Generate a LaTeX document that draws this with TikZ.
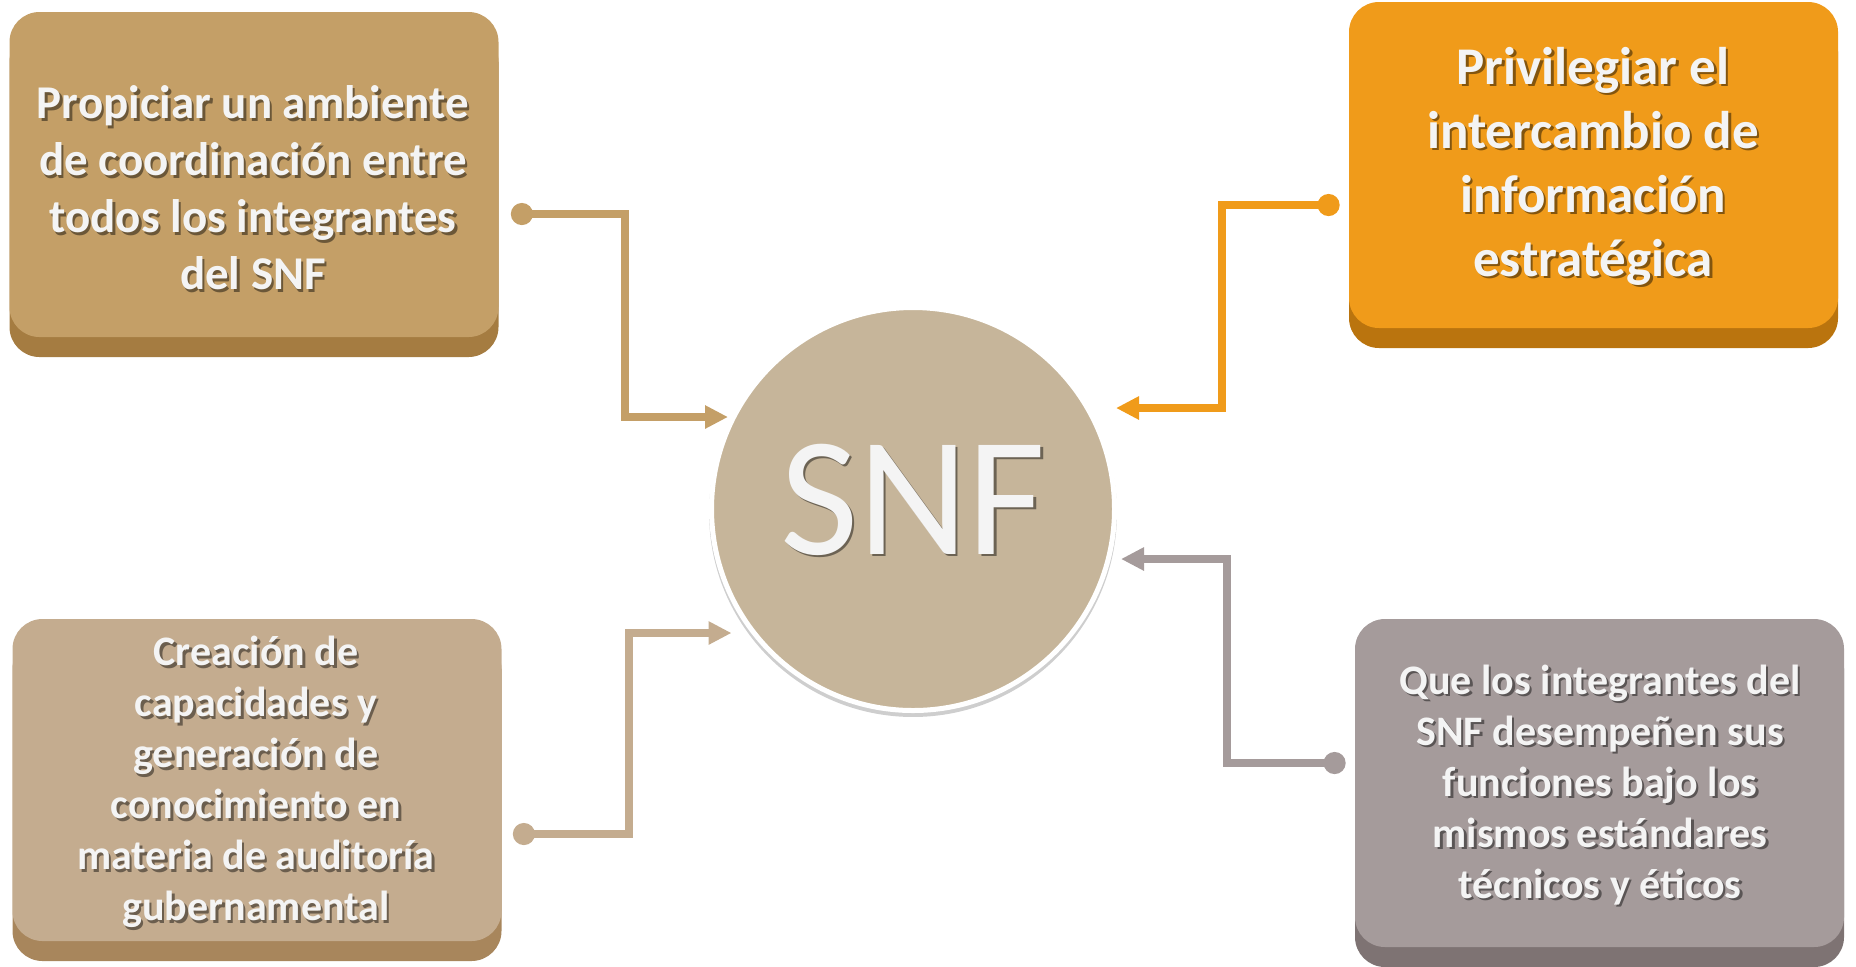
\documentclass[tikz,border=0pt]{standalone}
\usepackage{fontspec}
\setmainfont{Carlito}
\usetikzlibrary{arrows.meta,shadows}

\definecolor{tlface}{HTML}{C49F67}
\definecolor{tldark}{HTML}{A57C41}
\definecolor{trface}{HTML}{F09B1A}
\definecolor{trdark}{HTML}{BA740E}
\definecolor{blface}{HTML}{C4AC8F}
\definecolor{bldark}{HTML}{A8865C}
\definecolor{brface}{HTML}{A59B9B}
\definecolor{brdark}{HTML}{7E7373}
\definecolor{snffill}{HTML}{C6B59A}
\definecolor{txtwhite}{HTML}{F4F4F4}

\tikzset{
  facebox/.style={rounded corners=15pt, minimum width=244.5pt, inner sep=0pt, draw=none,
    fill=#1face, copy shadow={shadow xshift=0pt, shadow yshift=-10pt, fill=#1dark, draw=none}},
  txtmain/.style={text=txtwhite, align=center, inner sep=0pt},
  txtshade/.style={text=black, opacity=.45, align=center, inner sep=0pt},
  link/.style={line width=4pt, draw=#1,
    arrows={Circle[length=11pt,width=11pt]-Triangle[length=11.5pt,width=11pt]}}
}

% texto con sombra: nombre, coordenada, fuente, texto
\newcommand{\shadetext}[4]{%
  \node[txtshade, font=#3] (#1sh) at ([shift={(2.4,-2.4)}]#2) {#4};
  \node[txtmain, font=#3] (#1) at (#2) {#4};
}

\begin{document}
\begin{tikzpicture}[x=0.5pt,y=0.5pt]
\useasboundingbox (0,0) rectangle (1856,-966);

% cajas
\node[facebox=tl, minimum height=162.5pt] (tl) at (254,-174.5) {};
\node[facebox=tr, minimum height=163pt] (tr) at (1593.5,-165) {};
\node[facebox=bl, minimum height=161pt] (bl) at (257,-780) {};
\node[facebox=br, minimum height=164pt] (br) at (1599.5,-783) {};

% circulo central
\node[circle, minimum size=201.5pt, fill=snffill, draw=white, line width=2.5pt,
  drop shadow={shadow xshift=0pt, shadow yshift=-2pt, shadow scale=1.012, opacity=.35, fill=black!55}] (snf) at (913,-509) {};

% textos
\coordinate (tlc) at (253,-188);
\coordinate (trc) at (1593,-166);
\coordinate (blc) at (256,-782);
\coordinate (brc) at (1600,-785);
\coordinate (snfc) at (913,-500);
\shadetext{tltxt}{tlc}{\bfseries\fontsize{23.5}{28.5}\selectfont}{Propiciar un ambiente\\de coordinación entre\\todos los integrantes\\del SNF}
\shadetext{trtxt}{trc}{\bfseries\fontsize{26.5}{32}\selectfont}{Privilegiar el\\intercambio de\\información\\estratégica}
\shadetext{bltxt}{blc}{\bfseries\fontsize{21}{25.5}\selectfont}{Creación de\\capacidades y\\generación de\\conocimiento en\\materia de auditoría\\gubernamental}
\shadetext{brtxt}{brc}{\bfseries\fontsize{21}{25.5}\selectfont}{Que los integrantes del\\SNF desempeñen sus\\funciones bajo los\\mismos estándares\\técnicos y éticos}
\shadetext{snftxt}{snfc}{\fontsize{85}{90}\selectfont}{SNF}

% conectores
\coordinate (tltip) at ([shift={(19,92)}]snf.west);
\coordinate (trtip) at ([shift={(-1,101)}]snf.east);
\coordinate (bltip) at ([shift={(22.5,-124)}]snf.west);
\coordinate (brtip) at ([shift={(4,-50)}]snf.east);
\draw[link=tlface] ([shift={(12,-39.5)}]tl.east) -| ([shift={(-103,0)}]tltip) -- (tltip);
\draw[link=trface] ([shift={(-9,-40)}]tr.west) -| ([shift={(106,0)}]trtip) -- (trtip);
\draw[link=blface] ([shift={(11,-54)}]bl.east) -| ([shift={(-103,0)}]bltip) -- (bltip);
\draw[link=brface] ([shift={(-9,20)}]br.west) -| ([shift={(106,0)}]brtip) -- (brtip);
\end{tikzpicture}
\end{document}
